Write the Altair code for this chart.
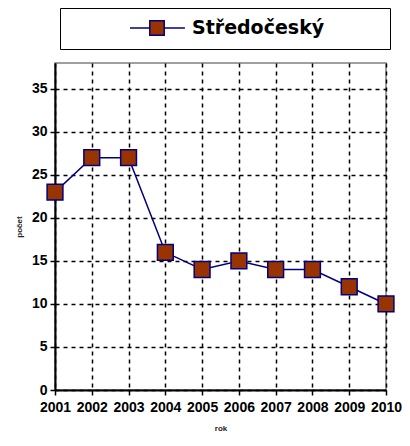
import altair as alt
import pandas as pd

years = ["2001", "2002", "2003", "2004", "2005", "2006", "2007", "2008", "2009", "2010"]
counts = [23, 27, 27, 16, 14, 15, 14, 14, 12, 10]
series_name = "Středočeský"
y_ticks = [0, 5, 10, 15, 20, 25, 30, 35]

df = pd.DataFrame({"rok": years, "pocet": counts, "kraj": [series_name] * len(years)})

# legend symbol: line with a square in the middle (+ invisible point to widen the box)
legend_symbol = "M-3,0H-0.8M0.8,0H3.1M-0.8,-0.8H0.8V0.8H-0.8ZM24.4,0"

base = alt.Chart(df).encode(
    x=alt.X(
        "rok:O",
        scale=alt.Scale(type="point", padding=0),
        axis=alt.Axis(title="rok", labelAngle=0, grid=True, labelPadding=5, titlePadding=10),
    ),
    y=alt.Y(
        "pocet:Q",
        scale=alt.Scale(domain=[0, 38], nice=False),
        axis=alt.Axis(values=y_ticks, title="počet", grid=True, labelPadding=3, titlePadding=8),
    ),
)

line = base.mark_line(color="#000080", strokeWidth=1.5)
pts = base.mark_square(
    size=250, filled=True, stroke="#000080", strokeWidth=1.5, opacity=1
).encode(
    fill=alt.Fill(
        "kraj:N",
        scale=alt.Scale(range=["#993300"]),
        legend=alt.Legend(
            title=None,
            orient="none",
            legendX=5,
            legendY=-55,
            padding=10,
            strokeColor="black",
            symbolType=legend_symbol,
            symbolSize=324,
            symbolStrokeColor="#000080",
            symbolFillColor="#993300",
            symbolStrokeWidth=1.5,
            symbolOffset=77,
            labelOffset=25,
            labelFont="DejaVu Sans",
            labelFontWeight="bold",
            labelFontSize=19,
            labelColor="black",
            labelLimit=300,
        ),
    )
)

chart = (
    (line + pts)
    .properties(
        width=331,
        height=327,
        autosize=alt.AutoSizeParams(type="none"),
        padding={"left": 47, "top": 55, "right": 16, "bottom": 45},
    )
    .configure_view(stroke="#808080", strokeWidth=1.5)
    .configure_axis(
        domainColor="black",
        domainWidth=2,
        tickColor="black",
        tickWidth=1.5,
        tickSize=5,
        gridColor="black",
        gridDash=[4, 4],
        gridWidth=1.5,
        gridOpacity=1,
        labelFont="Liberation Sans",
        labelFontWeight="bold",
        labelFontSize=14,
        labelColor="black",
        titleFont="Liberation Sans",
        titleFontWeight="bold",
        titleFontSize=8,
        titleColor="#222222",
    )
)

chart.save("out.html", embed_options={"renderer": "svg", "actions": False})
